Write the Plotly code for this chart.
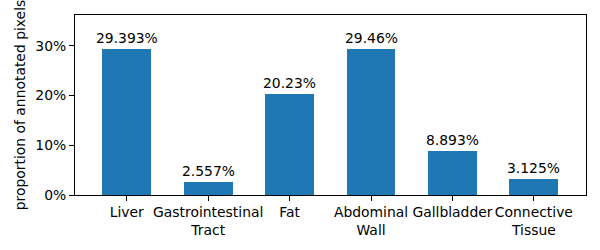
import plotly.graph_objects as go

categories = ["Liver", "Gastrointestinal<br>Tract", "Fat", "Abdominal<br>Wall", "Gallbladder", "Connective<br>Tissue"]
values = [29.393, 2.557, 20.23, 29.46, 8.893, 3.125]
value_labels = ["29.393%", "2.557%", "20.23%", "29.46%", "8.893%", "3.125%"]
y_ticks = [0, 10, 20, 30]
y_tick_labels = ["0%", "10%", "20%", "30%"]

xs = list(range(len(categories)))
font = dict(family="DejaVu Sans", size=13.9, color="black")

fig = go.Figure(go.Bar(
    x=xs, y=values, width=0.6, marker=dict(color="#1f77b4", line=dict(width=0)),
    hoverinfo="skip",
))

for x, v, lab in zip(xs, values, value_labels):
    fig.add_annotation(x=x, y=v, text=lab, showarrow=False, yanchor="bottom",
                       yshift=1, font=font)

fig.update_layout(
    width=600, height=250,
    margin=dict(l=75, r=14, t=15, b=55, autoexpand=False),
    plot_bgcolor="white", paper_bgcolor="white",
    font=font, showlegend=False, bargap=0,
    xaxis=dict(range=[-0.636, 5.64], tickvals=xs, ticktext=categories,
               showgrid=False, zeroline=False, showline=True, linecolor="black",
               linewidth=1, mirror=True, ticks="outside", ticklen=5, tickcolor="black",
               tickfont=font, automargin=False, ticklabelstandoff=-1),
    yaxis=dict(range=[0, 36.2], tickvals=y_ticks, ticktext=y_tick_labels,
               showgrid=False, zeroline=False, showline=True, linecolor="black",
               linewidth=1, mirror=True, ticks="outside", ticklen=5, tickcolor="black",
               tickfont=font, automargin=False,
               title=dict(text="proportion of annotated pixels", font=font, standoff=6)),
)

fig.write_html("out.html", config={"displayModeBar": False},
               post_script="document.body.style.margin='0';document.body.style.overflow='hidden';")
